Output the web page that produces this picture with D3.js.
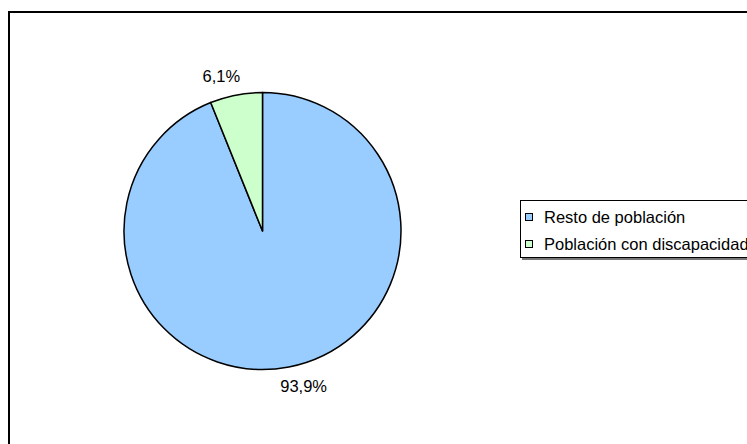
<!DOCTYPE html>
<html><head><meta charset="utf-8">
<script src="https://cdn.jsdelivr.net/npm/d3@7"></script>
<style>html,body{margin:0;padding:0;background:#fff;overflow:hidden}</style>
</head><body>
<svg id="c" width="747" height="444"></svg>
<script>
const categories = ["Resto de población", "Población con discapacidad"];
const values = [93.9, 6.1];
const labels = ["93,9%", "6,1%"];
const colors = ["#99CCFF", "#CCFFCC"];

const svg = d3.select("#c");
const font = "'Liberation Sans', Arial, Helvetica, sans-serif";
const fs = 16.5;

// outer frame
svg.append("rect").attr("x", 9).attr("y", 12).attr("width", 760).attr("height", 460)
  .attr("fill", "none").attr("stroke", "#000").attr("stroke-width", 2);

const cx = 262.5, cy = 231, R = 138.5;
const g = svg.append("g").attr("transform", `translate(${cx},${cy})`);
const pie = d3.pie().sort(null).value(d => d)(values);
const arc = d3.arc().innerRadius(0).outerRadius(R);
g.selectAll("path").data(pie).join("path")
  .attr("d", arc).attr("fill", (d, i) => colors[i])
  .attr("stroke", "#000").attr("stroke-width", 1.5).attr("stroke-linejoin", "round");

const labelArc = d3.arc().innerRadius(158).outerRadius(158);
g.selectAll("text").data(pie).join("text")
  .attr("transform", d => {
    const c = labelArc.centroid(d);
    const shift = c[0] < 0 ? -11 : 11;
    return `translate(${c[0] + shift},${c[1]})`;
  })
  .attr("text-anchor", "middle").attr("dy", "0.36em")
  .attr("font-family", font).attr("font-size", fs).attr("fill", "#000")
  .text((d, i) => labels[i]);

// legend
const lg = svg.append("g");
lg.append("line").attr("x1", 522).attr("x2", 760).attr("y1", 259).attr("y2", 259)
  .attr("stroke", "#777").attr("stroke-width", 2);
lg.append("rect").attr("x", 520.5).attr("y", 200.5).attr("width", 260).attr("height", 57)
  .attr("fill", "#fff").attr("stroke", "#000").attr("stroke-width", 1);
const items = lg.selectAll("g.it").data(categories).join("g").attr("class", "it")
  .attr("transform", (d, i) => `translate(0,${i * 27})`);
items.append("rect").attr("x", 525.5).attr("y", 213.5).attr("width", 7).attr("height", 7)
  .attr("fill", (d, i) => colors[i]).attr("stroke", "#000").attr("stroke-width", 1);
items.append("text").attr("x", 544).attr("y", 223)
  .attr("font-family", font).attr("font-size", fs).attr("fill", "#000").text(d => d);
</script>
</body></html>
